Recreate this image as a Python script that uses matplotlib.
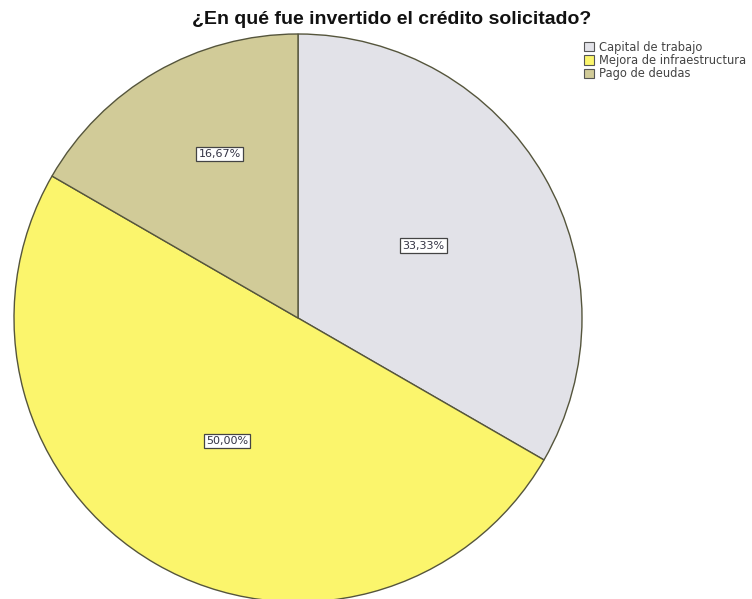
import numpy as np
import matplotlib.pyplot as plt
from matplotlib.patches import Patch

plt.rcParams['font.family'] = ['Liberation Sans', 'DejaVu Sans']

# datos del gráfico
categorias = ['Capital de trabajo', 'Mejora de infraestructura', 'Pago de deudas']
porcentajes = [33.33, 50.00, 16.67]
etiquetas = ['33,33%', '50,00%', '16,67%']
colores = ['#e2e2e8', '#fbf56c', '#d1cb98']
titulo = '¿En qué fue invertido el crédito solicitado?'

fig = plt.figure(figsize=(7.52, 5.99), dpi=100)
ax = fig.add_axes([0, 0, 1, 1])

centro = (298, 281)
radio = 284
ax.pie(porcentajes, colors=colores, startangle=90, counterclock=False,
       center=centro, radius=radio, frame=True,
       wedgeprops=dict(edgecolor='#55553c', linewidth=1.0))
ax.set_xlim(0, 752)
ax.set_ylim(0, 599)
ax.set_aspect('equal')
ax.axis('off')

# etiquetas cerca del ángulo medio de cada porción
dist = [0.51, 0.50, 0.64]
desvio = [0, 0, -4.5]
ang = 90.0
for p, txt, d, off in zip(porcentajes, etiquetas, dist, desvio):
    medio = ang - p * 3.6 / 2 + off
    ang -= p * 3.6
    x = centro[0] + d * radio * np.cos(np.radians(medio))
    y = centro[1] + d * radio * np.sin(np.radians(medio))
    ax.text(x, y, txt, ha='center', va='center', fontsize=8, color='#333344',
            family='DejaVu Sans',
            bbox=dict(boxstyle='square,pad=0.2', facecolor='white',
                      edgecolor='#444444', linewidth=0.9))

fig.text(0.521, 0.967, titulo, ha='center', va='center', fontsize=14,
         fontweight='bold', color='#111111')

manejadores = [Patch(facecolor=c, edgecolor='#555555', linewidth=0.8) for c in colores]
leg = fig.legend(manejadores, categorias, loc='upper left',
                 bbox_to_anchor=(0.777, 0.932), frameon=False,
                 prop={'family': 'DejaVu Sans', 'size': 8.3},
                 handlelength=0.85, handleheight=0.85, handletextpad=0.4,
                 labelspacing=0.02, borderpad=0, borderaxespad=0)
for t in leg.get_texts():
    t.set_color('#444444')

fig.savefig('out.png', dpi=100, facecolor='white')
